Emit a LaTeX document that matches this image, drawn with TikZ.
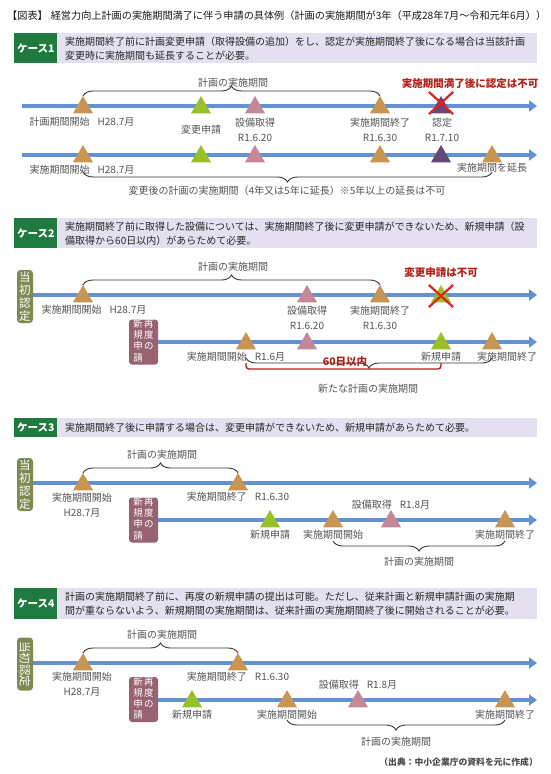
\documentclass[tikz,border=0pt]{standalone}
\usepackage{graphicx}
\usepackage{fontspec}
\setmainfont{Noto Sans CJK JP}
\usetikzlibrary{arrows.meta,shapes.geometric,shapes.misc,decorations.pathreplacing}
\definecolor{hdrgreen}{RGB}{30,122,62}
\definecolor{lav}{RGB}{228,224,240}
\definecolor{lineblue}{RGB}{98,145,212}
\definecolor{ttan}{RGB}{200,150,82}
\definecolor{tgreen}{RGB}{152,192,40}
\definecolor{tpink}{RGB}{196,136,150}
\definecolor{tpurple}{RGB}{100,72,122}
\definecolor{redtxt}{RGB}{178,32,22}
\definecolor{xred}{RGB}{222,34,34}
\definecolor{olivebox}{RGB}{124,138,84}
\definecolor{mauvebox}{RGB}{152,98,112}
\definecolor{gtxt}{RGB}{85,85,85}
\begin{document}
\begin{tikzpicture}[x=1pt,y=-1pt,
  tline/.style={line width=4.2pt, draw=lineblue, -{Triangle[length=8pt,width=11pt]}},
  tri/.style={regular polygon, regular polygon sides=3, minimum size=23pt, inner sep=0pt, outer sep=0pt, draw=none},
  brc/.style={decorate, decoration={brace, amplitude=10pt}, draw=black!80, line width=0.9pt},
  redbr/.style={draw=redtxt, line width=1.4pt, rounded corners=3pt},
  lbl/.style={font=\fontsize{10}{15}\selectfont, text=gtxt, inner sep=0pt, align=center},
  redlbl/.style={font=\fontsize{10.5}{12}\selectfont\bfseries, text=redtxt, inner sep=0pt},
  casebox/.style={anchor=north west, fill=hdrgreen, text=white, font=\fontsize{10.5}{12}\selectfont\bfseries, inner sep=0pt, minimum width=43pt},
  lavbox/.style={anchor=north west, fill=lav, text=black!85, font=\fontsize{10}{14}\selectfont, inner xsep=8pt, inner ysep=0pt, text width=464pt, align=left},
  obox/.style={fill=olivebox, text=white, rounded corners=3.5pt, minimum width=16pt, minimum height=53pt, inner sep=0pt, align=center, font=\fontsize{11.5}{13}\selectfont},
  mbox/.style={fill=mauvebox, text=white, rounded corners=3pt, minimum width=29pt, minimum height=45pt, inner sep=0pt, font=\fontsize{9.5}{10.5}\selectfont},
  xmk/.style={cross out, draw=xred, line width=2.2pt, minimum width=22pt, minimum height=20pt, inner sep=0pt}
]
\useasboundingbox (0,0) rectangle (550,774);
\fill[white] (0,0) rectangle (550,774);

% Title
\node[anchor=west, inner sep=0pt, text=black!90] (title) at (7,16) {\resizebox{539pt}{!}{\fontsize{10.3}{12}\selectfont【図表】\hspace{3pt}経営力向上計画の実施期間満了に伴う申請の具体例（計画の実施期間が3年（平成28年7月〜令和元年6月））}};

% ---------------- Case 1 ----------------
\node[casebox, minimum height=30pt] (k1) at (14,33) {ケース1};
\node[lavbox, minimum height=30pt] (h1) at (57,33) {実施期間終了前に計画変更申請（取得設備の追加）をし、認定が実施期間終了後になる場合は当該計画\\変更時に実施期間も延長することが必要。};

\coordinate (c1s1) at (22,106); \coordinate (c1e1) at (537,106);
\coordinate (c1s2) at (22,155); \coordinate (c1e2) at (537,155);
\draw[tline] (c1s1) -- (c1e1);
\draw[tline] (c1s2) -- (c1e2);

\node[tri, fill=ttan] (p11) at (83,107.5) {};
\node[tri, fill=tgreen] (p12) at (201,107.5) {};
\node[tri, fill=tpink] (p13) at (255,107.5) {};
\node[tri, fill=ttan] (p14) at (380,107.5) {};
\node[tri, fill=tpurple] (p15) at (441,107.5) {};
\node[xmk] (x1) at (441,103) {};

\node[tri, fill=ttan] (q11) at (83,156.5) {};
\node[tri, fill=tgreen] (q12) at (201,156.5) {};
\node[tri, fill=tpink] (q13) at (255,156.5) {};
\node[tri, fill=ttan] (q14) at (380,156.5) {};
\node[tri, fill=tpurple] (q15) at (441,156.5) {};
\node[tri, fill=ttan] (q16) at (492,156.5) {};

\draw[brc] (p11.corner 1) -- (p14.corner 1);
\node[lbl] (l1a) at (233,83) {計画の実施期間};
\node[redlbl] (l1b) at (470,84) {実施期間満了後に認定は不可};
\node[lbl] (l1c) at (82,122) {計画期間開始\hspace{8pt}H28.7月};
\node[lbl] (l1d) at (201,130) {変更申請};
\node[lbl] (l1e) at (255,129.5) {設備取得\\R1.6.20};
\node[lbl] (l1f) at (380,129.5) {実施期間終了\\R1.6.30};
\node[lbl] (l1g) at (442,130) {認定\\R1.7.10};
\node[lbl] (l1h) at (82,170) {実施期間開始\hspace{8pt}H28.7月};
\node[lbl] (l1i) at (492,168) {実施期間を延長};
\draw[brc] ([yshift=-27pt]q16.corner 1) -- ([yshift=-27pt]q11.corner 1);
\node[lbl] (l1j) at (287,191) {変更後の計画の実施期間（4年又は5年に延長）※5年以上の延長は不可};

% ---------------- Case 2 ----------------
\node[casebox, minimum height=30pt] (k2) at (14,218) {ケース2};
\node[lavbox, minimum height=30pt] (h2) at (57,218) {実施期間終了前に取得した設備については、実施期間終了後に変更申請ができないため、新規申請（設\\備取得から60日以内）があらためて必要。};

\node[obox] (o2) at (25,296.5) {当\\初\\認\\定};
\node[mbox] (m2) at (143.5,342) {\begin{tabular}{@{}c@{\hspace{1.5pt}}c@{}}新&再\\規&度\\申&の\\請&\end{tabular}};

\coordinate (c2e1) at (537,295);
\coordinate (c2e2) at (537,342);
\draw[tline] (o2.east |- c2e1) -- (c2e1);
\draw[tline] (m2.east) -- (c2e2);

\node[tri, fill=ttan] (p21) at (83,296.5) {};
\node[tri, fill=tpink] (p22) at (307,296.5) {};
\node[tri, fill=ttan] (p23) at (380,296.5) {};
\node[tri, fill=tgreen] (p24) at (441,296.5) {};
\node[xmk] (x2) at (441,296) {};

\node[tri, fill=ttan] (q21) at (246,343.5) {};
\node[tri, fill=tpink] (q22) at (307,343.5) {};
\node[tri, fill=tgreen] (q23) at (441,343.5) {};
\node[tri, fill=ttan] (q24) at (492,343.5) {};

\draw[brc] (p21.corner 1) -- (p23.corner 1);
\node[lbl] (l2a) at (233,267) {計画の実施期間};
\node[redlbl] (l2b) at (441,273) {変更申請は不可};
\node[lbl] (l2c) at (94,310) {実施期間開始\hspace{8pt}H28.7月};
\node[lbl] (l2d) at (307,317.5) {設備取得\\R1.6.20};
\node[lbl] (l2e) at (380,317.5) {実施期間終了\\R1.6.30};
\node[lbl] (l2f) at (236,357) {実施期間開始\hspace{8pt}R1.6月};
\node[lbl] (l2g) at (441,357) {新規申請};
\node[lbl] (l2h) at (507,357) {実施期間終了};
\draw[redbr] ([yshift=-31pt]q21.corner 1) |- ([yshift=-37pt]q23.corner 1) -- ([yshift=-31pt]q23.corner 1);
\node[redlbl] (l2i) at (345,362) {60日以内};
\draw[brc] ([yshift=-26pt]q24.corner 1) -- ([yshift=-26pt]q21.corner 1);
\node[lbl] (l2j) at (368,389) {新たな計画の実施期間};

% ---------------- Case 3 ----------------
\node[casebox, minimum height=19pt] (k3) at (14,418) {ケース3};
\node[lavbox, minimum height=19pt] (h3) at (57,418) {実施期間終了後に申請する場合は、変更申請ができないため、新規申請があらためて必要。};

\node[obox] (o3) at (25,484.5) {当\\初\\認\\定};
\node[mbox] (m3) at (143.5,520) {\begin{tabular}{@{}c@{\hspace{1.5pt}}c@{}}新&再\\規&度\\申&の\\請&\end{tabular}};

\coordinate (c3e1) at (537,483);
\coordinate (c3e2) at (537,520);
\draw[tline] (o3.east |- c3e1) -- (c3e1);
\draw[tline] (m3.east) -- (c3e2);

\node[tri, fill=ttan] (p31) at (83,484.5) {};
\node[tri, fill=ttan] (p32) at (238,484.5) {};
\node[tri, fill=tgreen] (q31) at (270,521.5) {};
\node[tri, fill=ttan] (q32) at (333,521.5) {};
\node[tri, fill=tpink] (q33) at (391,521.5) {};
\node[tri, fill=ttan] (q34) at (505,521.5) {};

\draw[brc] (p31.corner 1) -- (p32.corner 1);
\node[lbl] (l3a) at (162,455) {計画の実施期間};
\node[lbl] (l3b) at (82,505) {実施期間開始\\H28.7月};
\node[lbl] (l3c) at (238,497) {実施期間終了\hspace{8pt}R1.6.30};
\node[lbl] (l3d) at (391,505) {設備取得\hspace{8pt}R1.8月};
\node[lbl] (l3e) at (270,535) {新規申請};
\node[lbl] (l3f) at (333,535) {実施期間開始};
\node[lbl] (l3g) at (505,535) {実施期間終了};
\draw[brc] ([yshift=-31pt]q34.corner 1) -- ([yshift=-31pt]q32.corner 1);
\node[lbl] (l3h) at (419,562) {計画の実施期間};

% ---------------- Case 4 ----------------
\node[casebox, minimum height=31pt] (k4) at (14,588) {ケース4};
\node[lavbox, minimum height=31pt] (h4) at (57,588) {計画の実施期間終了前に、再度の新規申請の提出は可能。ただし、従来計画と新規申請計画の実施期\\間が重ならないよう、新規期間の実施期間は、従来計画の実施期間終了後に開始されることが必要。};

\node[obox, rotate=-90, minimum width=53pt, minimum height=16pt] (o4) at (25,664) {当初認定};
\node[mbox] (m4) at (143.5,699.5) {\begin{tabular}{@{}c@{\hspace{1.5pt}}c@{}}新&再\\規&度\\申&の\\請&\end{tabular}};

\coordinate (c4s1) at (33,663); \coordinate (c4e1) at (537,663);
\coordinate (c4e2) at (537,700);
\draw[tline] (c4s1) -- (c4e1);
\draw[tline] (m4.east |- c4e2) -- (c4e2);

\node[tri, fill=ttan] (p41) at (83,664.5) {};
\node[tri, fill=ttan] (p42) at (238,664.5) {};
\node[tri, fill=tgreen] (q41) at (192,701.5) {};
\node[tri, fill=ttan] (q42) at (287,701.5) {};
\node[tri, fill=tpink] (q43) at (358,701.5) {};
\node[tri, fill=ttan] (q44) at (505,701.5) {};

\draw[brc] (p41.corner 1) -- (p42.corner 1);
\node[lbl] (l4a) at (162,635) {計画の実施期間};
\node[lbl] (l4b) at (82,684.5) {実施期間開始\\H28.7月};
\node[lbl] (l4c) at (238,677) {実施期間終了\hspace{8pt}R1.6.30};
\node[lbl] (l4d) at (358,685) {設備取得\hspace{8pt}R1.8月};
\node[lbl] (l4e) at (192,715) {新規申請};
\node[lbl] (l4f) at (287,715) {実施期間開始};
\node[lbl] (l4g) at (505,715) {実施期間終了};
\draw[brc] ([yshift=-30pt]q44.corner 1) -- ([yshift=-30pt]q42.corner 1);
\node[lbl] (l4h) at (396,742) {計画の実施期間};

\node[anchor=east, font=\fontsize{8.8}{10}\selectfont\bfseries, text=black!70, inner sep=0pt] (src) at (538,762) {（出典：中小企業庁の資料を元に作成）};
\end{tikzpicture}
\end{document}
